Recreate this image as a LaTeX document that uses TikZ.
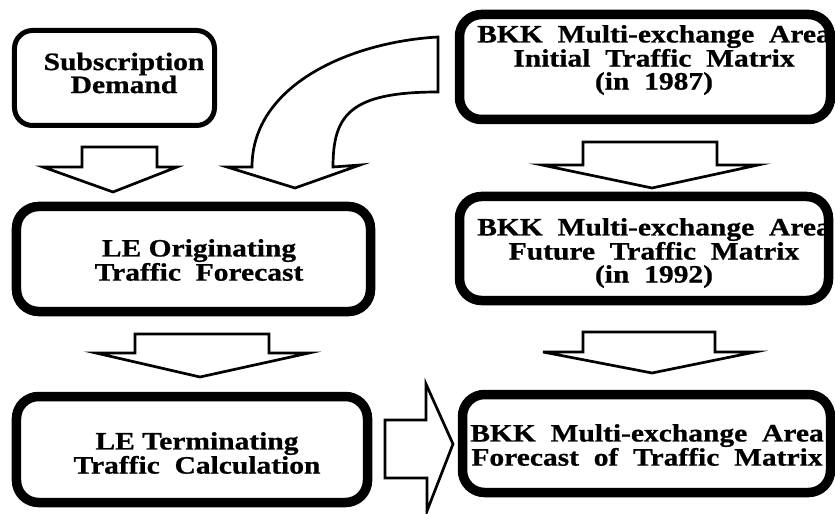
\documentclass[tikz,border=0pt]{standalone}
\usepackage{fontspec}
\newfontfamily\boxfont{Liberation Serif}[FakeStretch=1.18,FakeBold=0.8]
\begin{document}
\begin{tikzpicture}[x=1bp,y=-1bp,
  box/.style={draw, line width=9.5bp, rounded corners=22bp, inner sep=0pt},
  thinbox/.style={draw, line width=5bp, rounded corners=18bp, inner sep=0pt},
  lbl/.style={font=\boxfont\bfseries\fontsize{25bp}{23bp}\selectfont, align=center, inner sep=0pt},
  blockarrow/.style={draw, line width=2.7bp, fill=white, line join=miter}]
\useasboundingbox (0,0) rectangle (835,514);

% frames of the six stages
\node[thinbox, minimum width=200bp, minimum height=95bp] (sub)    at (114.5,78)  {};
\node[box, minimum width=354bp, minimum height=105bp]   (orig)   at (193.5,259) {};
\node[box, minimum width=351bp, minimum height=106bp]   (term)   at (192,449.5) {};
\node[box, minimum width=371bp, minimum height=105bp]   (init)   at (645,67)    {};
\node[box, minimum width=369bp, minimum height=104bp]   (future) at (644,248.5) {};
\node[box, minimum width=368bp, minimum height=98bp]    (fcst)   at (646.5,443.5) {};

% stage captions
\node[lbl] (subT)    at (124,73)  {Subscription\\Demand};
\node[lbl] (origT)   at (199,260) {LE~Originating\\Traffic~~Forecast};
\node[lbl] (termT)   at (197,453) {LE~Terminating\\Traffic~~Calculation};
\node[lbl] (initT)   at (654,60)  {BKK~~Multi-exchange~~Area\\Initial~~Traffic~~Matrix\\(in~~1987)};
\node[lbl] (futureT) at (654,253) {BKK~~Multi-exchange~~Area\\Future~~Traffic~~Matrix\\(in~~1992)};
\node[lbl] (fcstT)   at (647,445) {BKK~~Multi-exchange~~Area\\Forecast~~of~~Traffic~~Matrix};

% hollow block arrows between the stages
\draw[blockarrow] (82,147) -- (157,147) -- (157,167) -- (177,167) -- (113,192)
  -- (43,167) -- (82,167) -- cycle;
\draw[blockarrow] (135,334) -- (269,334) -- (269,353) -- (309,353) -- (200,377)
  -- (96,353) -- (135,353) -- cycle;
\draw[blockarrow] (583,142) -- (717,142) -- (717,165) -- (758,165) -- (652,188)
  -- (542,165) -- (583,165) -- cycle;
\draw[blockarrow] (583,332) -- (715,332) -- (715,352) -- (755,352) -- (652,373)
  -- (543,352) -- (583,352) -- cycle;
\draw[blockarrow] (385,420) -- (426,420) -- (426,384) -- (453,444) -- (427,511)
  -- (427,478) -- (385,478) -- cycle;
% bent arrow from the initial matrix down into the originating forecast
\draw[blockarrow] (438,37) .. controls (350,42) and (252,85) .. (252,167)
  -- (227,167) -- (295,188) -- (360,165) -- (333,167)
  .. controls (333,115) and (350,92) .. (438,92) -- cycle;
\end{tikzpicture}
\end{document}
